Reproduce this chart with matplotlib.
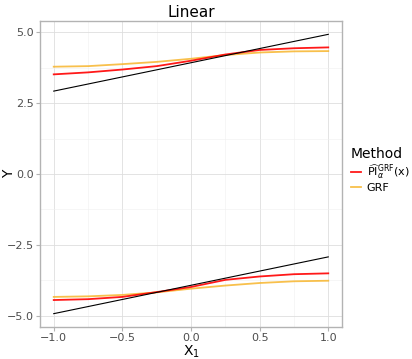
import numpy as np
import matplotlib.pyplot as plt

# valores
x = [-1.0, -0.75, -0.5, -0.25, 0.0, 0.25, 0.5, 0.75, 1.0]
oracle_up = [2.92, 3.17, 3.42, 3.67, 3.92, 4.17, 4.42, 4.67, 4.92]
oracle_lo = [-4.92, -4.67, -4.42, -4.17, -3.92, -3.67, -3.42, -3.17, -2.92]
pi_up = [3.51, 3.58, 3.68, 3.80, 3.99, 4.21, 4.37, 4.43, 4.46]
pi_lo = [-4.44, -4.41, -4.33, -4.16, -3.98, -3.73, -3.61, -3.53, -3.50]
grf_up = [3.78, 3.80, 3.87, 3.95, 4.06, 4.19, 4.28, 4.32, 4.33]
grf_lo = [-4.33, -4.31, -4.26, -4.17, -4.04, -3.93, -3.84, -3.78, -3.76]

red = '#FF0000'
orange = '#F7B52C'

fig = plt.figure(figsize=(4.12, 3.59), dpi=100)
ax = fig.add_axes([40/412, 32/359, 302/412, 306/359])

ax.plot(x, oracle_up, color='black', lw=0.8, zorder=3)
ax.plot(x, oracle_lo, color='black', lw=0.8, zorder=3)
ax.plot(x, grf_up, color=orange, lw=1.3, alpha=0.85, zorder=2)
ax.plot(x, grf_lo, color=orange, lw=1.3, alpha=0.85, zorder=2)
ax.plot(x, pi_up, color=red, lw=1.3, alpha=0.9, zorder=2,
        label=r'$\widehat{\mathrm{PI}}_{\alpha}^{\mathrm{GRF}}\mathrm{(x)}$')
ax.plot(x, pi_lo, color=red, lw=1.3, alpha=0.9, zorder=2)
ax.plot([], [], color=orange, lw=1.3, alpha=0.85, label='GRF')

ax.set_xlim(-1.1, 1.1)
ax.set_ylim(-5.39, 5.39)
ax.set_xticks([-1.0, -0.5, 0.0, 0.5, 1.0])
ax.set_yticks([-5.0, -2.5, 0.0, 2.5, 5.0])
ax.set_xticks(np.arange(-0.75, 1.0, 0.5), minor=True)
ax.set_yticks([-3.75, -1.25, 1.25, 3.75], minor=True)
ax.set_xticklabels(['\u22121.0', '\u22120.5', '0.0', '0.5', '1.0'])
ax.set_yticklabels(['\u22125.0', '\u22122.5', '0.0', '2.5', '5.0'])
ax.grid(True, which='major', color='#DEDEDE', lw=0.6)
ax.grid(True, which='minor', color='#EFEFEF', lw=0.4)
ax.set_axisbelow(True)
for s in ax.spines.values():
    s.set_color('#B3B3B3')
    s.set_linewidth(1.0)
ax.tick_params(which='major', colors='#B3B3B3', labelcolor='#4D4D4D',
               labelsize=8, length=3, width=0.8, pad=1.5)
ax.tick_params(which='minor', length=0)

ax.set_title('Linear', fontsize=11, pad=3)
ax.set_xlabel(r'X$_1$', fontsize=10, labelpad=0)
fig.text(9/412, 1 - 174/359, 'Y', fontsize=10, rotation=90,
         ha='center', va='center')

leg = fig.legend(loc='upper left', bbox_to_anchor=(351/412, 1 - 147/359),
                 frameon=False, title='Method', fontsize=8, title_fontsize=10,
                 handlelength=0.9, handletextpad=0.5, labelspacing=0.15,
                 borderpad=0, borderaxespad=0)
leg._legend_box.align = 'left'

fig.savefig('out.png', dpi=100)
